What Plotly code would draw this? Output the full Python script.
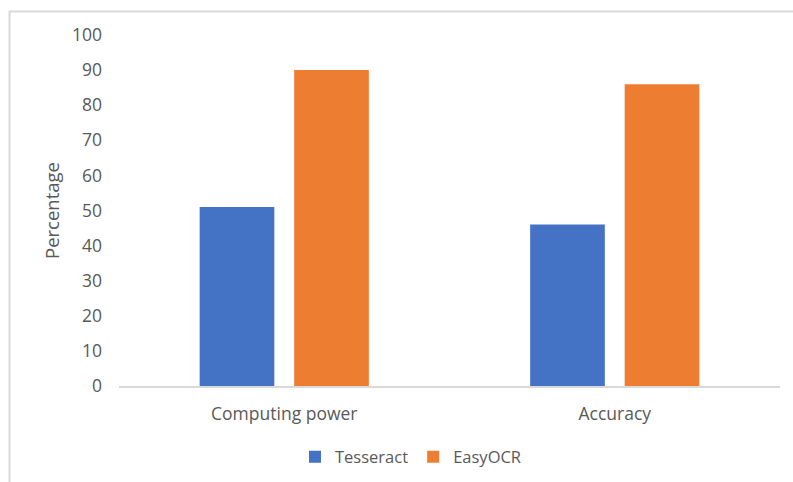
import plotly.graph_objects as go

categories = ["Computing power", "Accuracy"]
tesseract = [51, 46]
easyocr = [90, 86]
y_ticks = [0, 10, 20, 30, 40, 50, 60, 70, 80, 90, 100]

W, H = 793, 482
L, R, T, B = 119, 13, 35, 96
pw, ph = W - L - R, H - T - B

def px_x(x):
    return (x - L) / pw

def px_y(y):
    return (H - B - y) / ph

text_color = "#595959"
font_family = "Open Sans, Noto Sans, sans-serif"

fig = go.Figure()
fig.add_trace(go.Bar(name="Tesseract", x=categories, y=tesseract,
                     marker=dict(color="#4472C4", line=dict(width=0))))
fig.add_trace(go.Bar(name="EasyOCR", x=categories, y=easyocr,
                     marker=dict(color="#ED7D31", line=dict(width=0))))

fig.update_layout(
    width=W, height=H,
    margin=dict(l=L, r=R, t=T, b=B, autoexpand=False),
    paper_bgcolor="white", plot_bgcolor="white",
    barmode="group", bargap=0.428, bargroupgap=0.21,
    font=dict(family=font_family, size=17, color=text_color),
    showlegend=True,
    legend=dict(orientation="h", x=px_x(411), xanchor="center",
                y=px_y(457), yanchor="middle",
                font=dict(size=16.5, color=text_color),
                itemwidth=30, tracegroupgap=0),
    xaxis=dict(showgrid=False, showline=True, linecolor="#d9d9d9", linewidth=1.5,
               ticks="", tickfont=dict(size=17.5, color=text_color),
               ticklabelstandoff=11, automargin=False),
    yaxis=dict(range=[0, 100], tickvals=y_ticks, showgrid=False, zeroline=False,
               showline=False, ticks="", tickfont=dict(size=17.5, color=text_color),
               ticklabelstandoff=16, automargin=False),
    annotations=[dict(text="Percentage", xref="paper", yref="paper",
                      x=px_x(52), y=px_y(211), xanchor="center", yanchor="middle",
                      textangle=-90, showarrow=False,
                      font=dict(size=18.5, color=text_color))],
    shapes=[dict(type="rect", xref="paper", yref="paper",
                 x0=px_x(9.5), x1=px_x(820), y0=px_y(500), y1=px_y(11.5),
                 line=dict(color="#d9d9d9", width=2), fillcolor="rgba(0,0,0,0)",
                 layer="below")],
)

fig.write_html("out.html")
